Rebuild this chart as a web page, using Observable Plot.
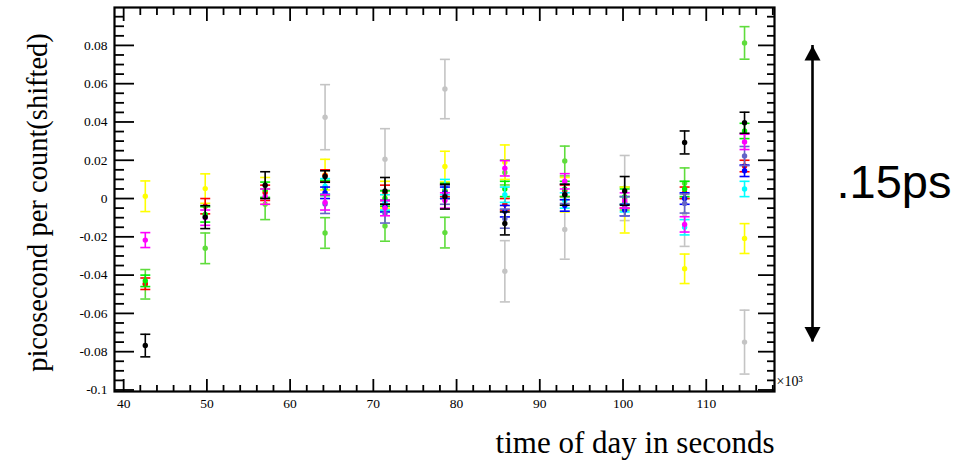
<!DOCTYPE html>
<html><head><meta charset="utf-8">
<script src="https://cdn.jsdelivr.net/npm/d3@7"></script>
<script src="https://cdn.jsdelivr.net/npm/@observablehq/plot@0.6"></script>
<style>html,body{margin:0;padding:0;background:#fff;overflow:hidden}</style>
</head><body><div id="chart"></div>
<script>
// ---- data (x in units of 10^3 s, y in ps per count) ----
const times = [42.6, 49.8, 57.0, 64.2, 71.4, 78.6, 85.8, 93.0, 100.2, 107.4, 114.6];

const seriesNames  = ["gray", "lightgreen", "yellow", "red", "green", "cyan", "blue", "slate", "magenta", "black"];
const seriesColors = ["#c4c4c4", "#5fdc3c", "#ffff00", "#ff0000", "#00ee00", "#00ffff", "#0000ff", "#6464c8", "#ff00ff", "#000000"];

const vGray   = [null, null, null, 0.0425, 0.0205, 0.0572, -0.038, -0.0162, 0.0055, -0.008, -0.075];
const eGray   = [null, null, null, 0.017, 0.016, 0.0155, 0.016, 0.0155, 0.017, 0.017, 0.0167];
const vLGreen = [-0.0448, -0.026, -0.003, -0.018, -0.0143, -0.0178, 0.0136, 0.0196, 0.0, 0.008, 0.0813];
const eLGreen = [0.0077, 0.008, 0.008, 0.008, 0.008, 0.008, 0.0065, 0.0078, 0.006, 0.008, 0.0085];
const vYellow = [0.0012, 0.0052, 0.004, 0.0125, 0.002, 0.0167, 0.019, 0.002, -0.006, -0.0367, -0.0209];
const eYellow = [0.008, 0.0077, 0.007, 0.008, 0.007, 0.008, 0.009, 0.009, 0.012, 0.0077, 0.0078];
const vRed    = [-0.0445, -0.004, 0.003, 0.012, 0.003, 0.004, -0.003, 0.004, -0.002, 0.003, 0.017];
const eRed    = [0.003, 0.004, 0.004, 0.003, 0.004, 0.003, 0.003, 0.003, 0.003, 0.003, 0.003];
const vGreen  = [-0.043, -0.0083, 0.0046, 0.0055, 0.0, 0.004, 0.005, 0.005, 0.001, 0.005, 0.0353];
const eGreen  = [0.003, 0.004, 0.004, 0.004, 0.004, 0.004, 0.004, 0.004, 0.004, 0.004, 0.004];
const vCyan   = [null, null, null, 0.0064, -0.002, 0.006, 0.002, -0.001, -0.003, -0.015, 0.005];
const eCyan   = [null, null, null, 0.004, 0.004, 0.004, 0.004, 0.004, 0.004, 0.004, 0.004];
const vBlue   = [null, null, null, 0.003, -0.004, 0.003, -0.0066, -0.0036, -0.006, 0.0, 0.0145];
const eBlue   = [null, null, null, 0.003, 0.003, 0.003, 0.003, 0.003, 0.003, 0.003, 0.003];
const vSlate  = [null, null, null, -0.0028, -0.0078, 0.002, -0.0105, 0.0024, -0.004, -0.0026, 0.0222];
const eSlate  = [null, null, null, 0.005, 0.005, 0.005, 0.005, 0.005, 0.005, 0.005, 0.005];
const vMagenta= [-0.0217, -0.010, 0.001, -0.002, -0.005, -0.001, 0.0158, 0.009, -0.001, -0.0135, 0.0296];
const eMagenta= [0.0039, 0.004, 0.004, 0.004, 0.004, 0.004, 0.004, 0.004, 0.004, 0.004, 0.004];
const vBlack  = [-0.0768, -0.0097, 0.007, 0.0115, 0.004, 0.001, -0.013, 0.002, 0.004, 0.0293, 0.0396];
const eBlack  = [0.0059, 0.006, 0.007, 0.003, 0.007, 0.0065, 0.006, 0.0055, 0.0075, 0.006, 0.0055];

const seriesValues = [vGray, vLGreen, vYellow, vRed, vGreen, vCyan, vBlue, vSlate, vMagenta, vBlack];
const seriesErrors = [eGray, eLGreen, eYellow, eRed, eGreen, eCyan, eBlue, eSlate, eMagenta, eBlack];

const xTicks = [40, 50, 60, 70, 80, 90, 100, 110];
const xTickLabels = ["40", "50", "60", "70", "80", "90", "100", "110"];
const yTicks = [-0.1, -0.08, -0.06, -0.04, -0.02, 0, 0.02, 0.04, 0.06, 0.08];
const yTickLabels = ["-0.1", "-0.08", "-0.06", "-0.04", "-0.02", "0", "0.02", "0.04", "0.06", "0.08"];

const xLabel = "time of day in seconds";
const yLabel = "picosecond per count(shifted)";
const xUnit = "×10³";
const spanEnds = [0.08, -0.075];
const spanLabel = ".15ps";

// ---- build ----
const xDomain = [38.9, 118.2];
const yDomain = [-0.1008, 0.0998];
const xMinor = d3.range(40, 118.01, 2).filter(v => !xTicks.includes(v));
const yMinor = d3.range(-100, 96, 5).map(v => v / 1000).filter(v => !yTicks.some(t => Math.abs(t - v) < 1e-9));

const rows = [];
seriesNames.forEach((s, k) => {
  times.forEach((t, i) => {
    const v = seriesValues[k][i];
    if (v != null) rows.push({series: s, x: t, y: v, err: seriesErrors[k][i]});
  });
});

const capSymbol = {draw(ctx, size) { const w = Math.sqrt(size / Math.PI); ctx.moveTo(-w, 0); ctx.lineTo(w, 0); }};
const headSymbol = {draw(ctx, size) { const s = Math.sqrt(size / Math.PI); ctx.moveTo(0, 0); ctx.lineTo(-s, s * 1.9); ctx.lineTo(s, s * 1.9); ctx.closePath(); }};

const serif = "Liberation Serif, Times New Roman, serif";
const marks = [];
seriesNames.forEach(s => {
  const f = d => d.series === s;
  marks.push(
    Plot.ruleX(rows, {filter: f, x: "x", y1: d => d.y - d.err, y2: d => d.y + d.err, stroke: "series", strokeWidth: 1.6}),
    Plot.dot(rows, {filter: f, x: "x", y: d => d.y + d.err, symbol: capSymbol, r: 5, stroke: "series", fill: "none", strokeWidth: 1.6}),
    Plot.dot(rows, {filter: f, x: "x", y: d => d.y - d.err, symbol: capSymbol, r: 5, stroke: "series", fill: "none", strokeWidth: 1.6}),
    Plot.dot(rows, {filter: f, x: "x", y: "y", r: 2.7, fill: "series", stroke: "none"})
  );
});

const chart = Plot.plot({
  width: 971, height: 464,
  marginLeft: 114, marginRight: 197, marginTop: 7, marginBottom: 73,
  style: {fontFamily: serif, fontSize: "13.5px", background: "white", overflow: "visible", color: "black"},
  x: {domain: xDomain, label: null},
  y: {domain: yDomain, label: null},
  color: {domain: seriesNames, range: seriesColors},
  marks: [
    ...marks,
    // bottom axis
    Plot.axisX({anchor: "bottom", ticks: xTicks, tickSize: -12, tickPadding: 19, strokeWidth: 1.8,
      tickFormat: d => xTickLabels[xTicks.indexOf(d)], label: null}),
    Plot.axisX({anchor: "bottom", ticks: xMinor, tickSize: -6, strokeWidth: 1.8, fill: "none", label: null}),
    // top axis
    Plot.axisX({anchor: "top", ticks: xTicks, tickSize: -13, strokeWidth: 1.8, fill: "none", label: null}),
    Plot.axisX({anchor: "top", ticks: xMinor, tickSize: -7, strokeWidth: 1.8, fill: "none", label: null}),
    // left axis
    Plot.axisY({anchor: "left", ticks: yTicks, tickSize: -20, tickPadding: 27, strokeWidth: 1.8,
      tickFormat: d => yTickLabels[yTicks.findIndex(t => Math.abs(t - d) < 1e-9)], label: null}),
    Plot.axisY({anchor: "left", ticks: yMinor, tickSize: -10, strokeWidth: 1.8, fill: "none", label: null}),
    // right axis
    Plot.axisY({anchor: "right", ticks: yTicks, tickSize: -17, strokeWidth: 1.8, fill: "none", label: null}),
    Plot.axisY({anchor: "right", ticks: yMinor, tickSize: -8, strokeWidth: 1.8, fill: "none", label: null}),
    Plot.frame({strokeWidth: 2.2}),
    // axis titles
    Plot.text([xUnit], {frameAnchor: "bottom-right", textAnchor: "start", dx: 2, dy: -6, fontSize: 14}),
    Plot.text([yLabel], {frameAnchor: "left", textAnchor: "middle", rotate: -90, dx: -77, dy: 3, fontSize: 28.5}),
    Plot.text([xLabel], {frameAnchor: "bottom-right", textAnchor: "end", dy: 61, fontSize: 31}),
    // span annotation
    Plot.ruleX([spanEnds], {x: () => xDomain[1], y1: d => d[0], y2: d => d[1], dx: 38, strokeWidth: 2.6, stroke: "black"}),
    Plot.dot([spanEnds[0]], {x: () => xDomain[1], y: d => d, dx: 38, symbol: headSymbol, r: 8, fill: "black", stroke: "none"}),
    Plot.dot([spanEnds[1]], {x: () => xDomain[1], y: d => d, dx: 38, symbol: headSymbol, r: 8, rotate: 180, fill: "black", stroke: "none"}),
    Plot.text([spanLabel], {x: () => xDomain[1], y: () => (spanEnds[0] + spanEnds[1]) / 2, dx: 62, dy: -11,
      textAnchor: "start", fontSize: 47, fontFamily: "Liberation Sans, Arial, sans-serif"})
  ]
});
document.getElementById("chart").appendChild(chart);
</script>
</body></html>
